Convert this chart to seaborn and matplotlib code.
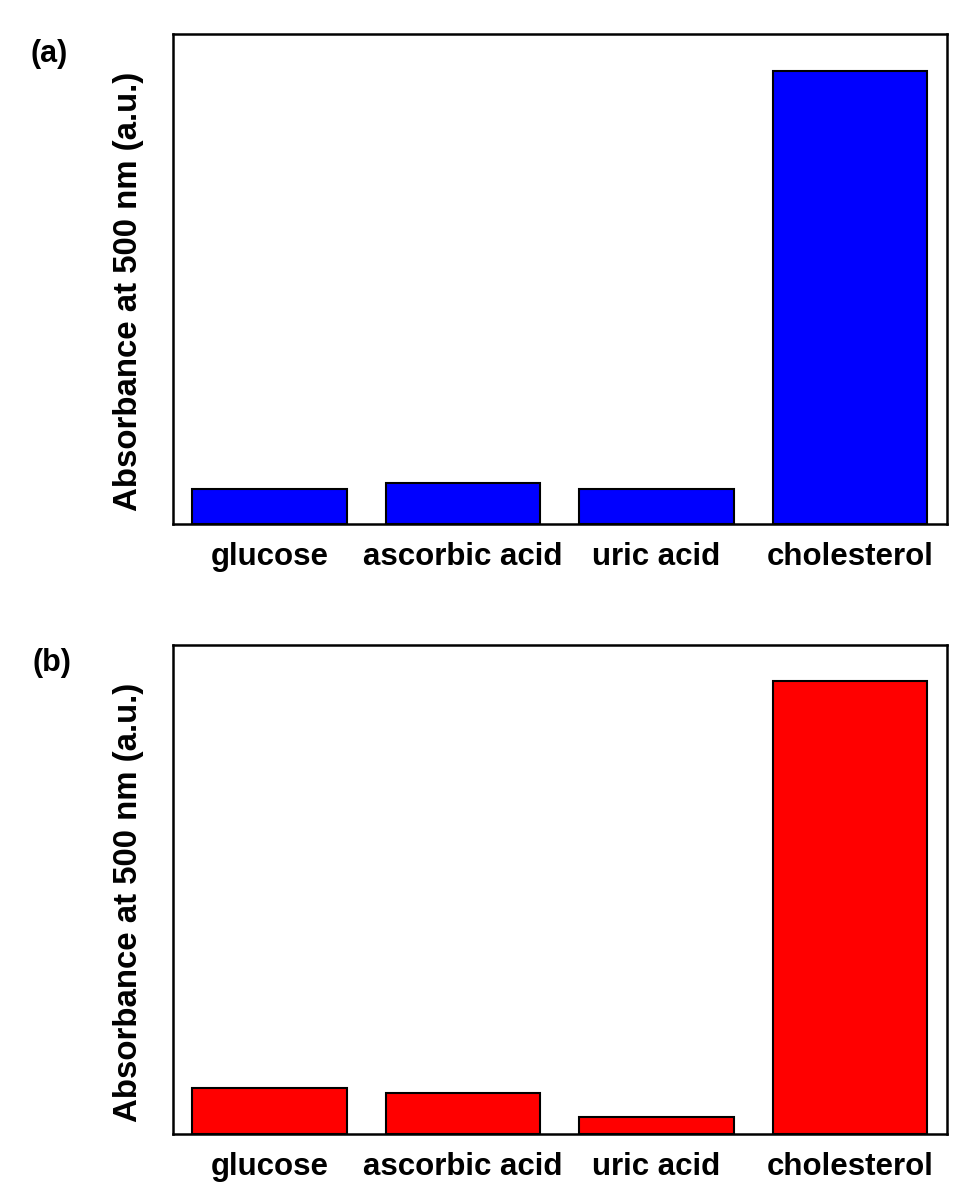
import matplotlib
matplotlib.use("Agg")
import matplotlib.pyplot as plt
import seaborn as sns
import pandas as pd

# Selectivity data: absorbance at 500 nm for each analyte
analytes = ["glucose", "ascorbic acid", "uric acid", "cholesterol"]
absorbance_a = [0.0715, 0.0838, 0.0715, 0.924]
absorbance_b = [0.094, 0.084, 0.035, 0.925]

panel_labels = ["(a)", "(b)"]
bar_colors = ["#0000ff", "#ff0000"]
ylabel = "Absorbance at 500 nm (a.u.)"

sns.set_theme(style="white")
plt.rcParams["font.family"] = ["Liberation Sans", "DejaVu Sans"]
plt.rcParams["font.weight"] = "bold"
plt.rcParams["text.color"] = "black"
plt.rcParams["axes.labelcolor"] = "black"
plt.rcParams["xtick.color"] = "black"
plt.rcParams["ytick.color"] = "black"

fig = plt.figure(figsize=(9.71, 11.82), dpi=100)
fig.patch.set_facecolor("white")

axes_rects = [
    [0.178, 0.5567, 0.797, 0.4143],
    [0.178, 0.0406, 0.797, 0.4141],
]
label_pos = [(0.031, 0.954), (0.033, 0.439)]

for rect, vals, color, plabel, lpos in zip(
    axes_rects, [absorbance_a, absorbance_b], bar_colors, panel_labels, label_pos
):
    ax = fig.add_axes(rect)
    df = pd.DataFrame({"analyte": analytes, "absorbance": vals})
    sns.barplot(
        data=df, x="analyte", y="absorbance", color=color,
        edgecolor="black", linewidth=1.5, width=0.8, saturation=1.0, ax=ax,
    )
    ax.set_xlim(-0.5, 3.5)
    ax.set_ylim(0, 1.0)
    ax.set_yticks([])
    ax.set_xlabel("")
    ax.set_ylabel(ylabel, fontsize=23.8, fontweight="bold")
    ax.yaxis.set_label_coords(-0.037, 0.474)
    ax.tick_params(axis="x", length=0, pad=13, labelsize=22.5, colors="black")
    for t in ax.get_xticklabels():
        t.set_fontweight("bold")
    for s in ax.spines.values():
        s.set_visible(True)
        s.set_color("black")
        s.set_linewidth(1.8)
    ax.set_facecolor("white")
    fig.text(lpos[0], lpos[1], plabel, fontsize=22, fontweight="bold",
             ha="left", va="center", color="black")

fig.savefig("out.png", dpi=100, facecolor="white")
